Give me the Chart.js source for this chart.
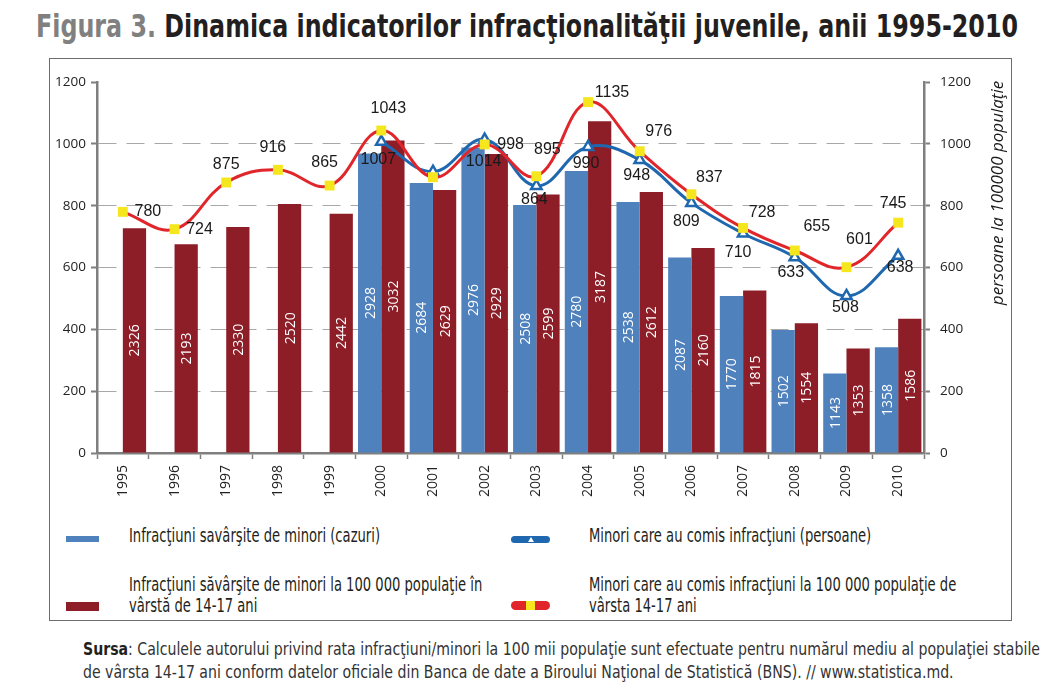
<!DOCTYPE html>
<html>
<head>
<meta charset="utf-8">
<script src="https://cdn.jsdelivr.net/npm/chart.js@4.4.1/dist/chart.umd.min.js"></script>
<style>
  body { margin: 0; background: #fff; width: 1063px; height: 700px; position: relative; overflow: hidden;
         font-family: 'Liberation Sans Narrow', 'DejaVu Sans Condensed', sans-serif; }
  .abs { position: absolute; white-space: nowrap; }
  .fit { display: inline-block; transform-origin: 0 0; }
  #title { left: 36px; top: 10px; font-size: 32px; line-height: 32px; font-weight: bold; color: #231f20; }
  #title .fig { color: #808080; }
  #box { position: absolute; left: 49px; top: 58px; width: 963px; height: 563px; box-sizing: border-box;
         border: 1.5px solid #6d6d6d; }
  #chartWrap { position: absolute; left: 49px; top: 58px; width: 963px; height: 462px; }
  .leg { font-size: 20px; line-height: 21px; color: #231f20; }
  .sw { position: absolute; }
  #src { left: 83px; top: 638px; font-size: 17px; line-height: 23px; color: #333; }
</style>
</head>
<body>
<div id="title" class="abs"><span class="fit" id="titleText"><span class="fig">Figura 3.</span> Dinamica indicatorilor infracţionalităţii juvenile, anii 1995-2010</span></div>
<div id="box"></div>
<div id="chartWrap"><canvas id="chart" width="963" height="462"></canvas></div>

<!-- legend -->
<div class="sw" style="left:66px;top:536px;width:33px;height:5.5px;background:#4f81bd"></div>
<div class="sw" style="left:66px;top:601.5px;width:33px;height:9px;background:#8d1d27"></div>
<div class="sw" style="left:511px;top:535.5px;width:39px;height:7px;background:#1f68b0;border-radius:4px">
  <div style="position:absolute;left:16.5px;top:1px;width:0;height:0;border-left:3px solid transparent;border-right:3px solid transparent;border-bottom:5px solid #fff"></div>
</div>
<div class="sw" style="left:511px;top:601px;width:39px;height:9px;background:#e0262b;border-radius:4.5px">
  <div style="position:absolute;left:15px;top:0;width:9px;height:9px;background:#f5e61e"></div>
</div>
<div class="abs leg" style="left:129px;top:525px"><span class="fit lg" id="legRef">Infracţiuni savârşite de minori (cazuri)</span></div>
<div class="abs leg" style="left:589px;top:525px"><span class="fit lg">Minori care au comis infracţiuni (persoane)</span></div>
<div class="abs leg" style="left:129px;top:573.5px"><span class="fit lg">Infracţiuni săvârşite de minori la 100 000 populaţie în<br>vârstă de 14-17 ani</span></div>
<div class="abs leg" style="left:589px;top:573.5px"><span class="fit lg">Minori care au comis infracţiuni la 100 000 populaţie de<br>vârsta 14-17 ani</span></div>

<div id="src" class="abs"><span class="fit sr" id="srcRef"><b style="color:#231f20">Sursa</b>: Calculele autorului privind rata infracţiuni/minori la 100 mii populaţie sunt efectuate pentru numărul mediu al populaţiei stabile</span><br><span class="fit sr">de vârsta 14-17 ani conform datelor oficiale din Banca de date a Biroului Naţional de Statistică (BNS). // www.statistica.md.</span></div>

<script>
// Categories
const years = ['1995', '1996', '1997', '1998', '1999', '2000', '2001', '2002',
               '2003', '2004', '2005', '2006', '2007', '2008', '2009', '2010'];

// Bar heights as drawn on the axis
const casesBar = [null, null, null, null, null, 969, 873, 988, 802, 912, 812, 632, 508, 398, 257, 342];
const rateBar = [727, 675, 731, 805, 774, 1011, 851, 967, 836, 1073, 844, 663, 526, 420, 338, 434];

// Numbers printed inside the bars
const casesLabel = [null, null, null, null, null, 2928, 2684, 2976, 2508, 2780, 2538, 2087, 1770, 1502, 1143, 1358];
const rateLabel = [2326, 2193, 2330, 2520, 2442, 3032, 2629, 2929, 2599, 3187, 2612, 2160, 1815, 1554, 1353, 1586];

// Lines
const minorsLine = [null, null, null, null, null, 1007, 910, 1014, 864, 990, 948, 809, 710, 633, 508, 638];
const minorsRateLine = [780, 724, 875, 916, 865, 1043, 892, 998, 895, 1135, 976, 837, 728, 655, 601, 745];

const yTicks = [0, 200, 400, 600, 800, 1000, 1200];
const axisTitle = 'persoane la 100000 populaţie';

// where each line label sits relative to its point (null = not shown)
const rateLabelPos = [[25, 0], [25, 0], [0, -18], [-5, -22], [-5, -23], [7, -22], null, [26, 0],
                      [11, -27], [24, -10], [19, -20], [18, -17], [19, -15], [22, -24], [13, -28], [-5, -19]];
const minorsLabelPos = [null, null, null, null, null, [-3, 18], null, [-1, 22],
                        [-2, 14], [-2, 17], [-3, 16], [-5, 19], [-5, 19], [-4, 15], [-1, 12], [2, 12]];

const AXIS = '#7f7f7f';

// fit text blocks to the widths seen in the picture
function fitGroup(cls, ref, target) {
    const k = target / document.getElementById(ref).getBoundingClientRect().width;
    document.querySelectorAll('.' + cls).forEach((el) => { el.style.transform = `scaleX(${k})`; });
}
document.getElementById('titleText').classList.add('tt');
fitGroup('tt', 'titleText', 982);
fitGroup('lg', 'legRef', 251);
fitGroup('sr', 'srcRef', 957);

const valueLabels = {
    id: 'valueLabels',
    afterDatasetsDraw(chart) {
        const ctx = chart.ctx;
        ctx.save();
        // white numbers inside bars
        ctx.fillStyle = '#fff';
        ctx.font = '14px "Open Sans"';
        ctx.textAlign = 'center';
        ctx.textBaseline = 'middle';
        [[2, casesLabel], [3, rateLabel]].forEach(([di, texts]) => {
            chart.getDatasetMeta(di).data.forEach((bar, i) => {
                if (texts[i] == null) return;
                ctx.save();
                ctx.translate(bar.x, (bar.y + bar.base) / 2);
                ctx.rotate(-Math.PI / 2);
                ctx.fillText(String(texts[i]), 0, 1);
                ctx.restore();
            });
        });
        // black numbers next to line points
        ctx.fillStyle = '#1a1a1a';
        ctx.font = '16px "Liberation Sans Narrow", sans-serif';
        [[0, minorsRateLine, rateLabelPos], [1, minorsLine, minorsLabelPos]].forEach(([di, vals, pos]) => {
            chart.getDatasetMeta(di).data.forEach((pt, i) => {
                if (!pos[i] || vals[i] == null) return;
                ctx.fillText(String(vals[i]), pt.x + pos[i][0], pt.y + pos[i][1]);
            });
        });
        ctx.restore();
    },
    afterDraw(chart) {
        const ctx = chart.ctx;
        ctx.save();
        ctx.translate(948.7, 135);
        ctx.rotate(-Math.PI / 2);
        ctx.fillStyle = '#1a1a1a';
        ctx.font = 'italic 17px "Open Sans"';
        ctx.textAlign = 'center';
        ctx.textBaseline = 'middle';
        ctx.fillText(axisTitle, 0, 0, 230);
        ctx.restore();
    }
};

const tickFont = { family: 'Open Sans', size: 13.5 };
const plainTick = (v) => String(v);

new Chart(document.getElementById('chart').getContext('2d'), {
    type: 'bar',
    data: {
        labels: years,
        datasets: [
            {
                type: 'line', label: 'Minori care au comis infracţiuni la 100 000 populaţie de vârsta 14-17 ani',
                data: minorsRateLine, order: 0,
                borderColor: '#e0262b', borderWidth: 3, tension: 0.4,
                pointStyle: 'rect', pointRadius: 7, pointBackgroundColor: '#f5e61e', pointBorderWidth: 0
            },
            {
                type: 'line', label: 'Minori care au comis infracţiuni (persoane)',
                data: minorsLine, order: 0,
                borderColor: '#1f68b0', borderWidth: 3, tension: 0.4,
                pointStyle: 'triangle', pointRadius: 6, pointBackgroundColor: '#fff',
                pointBorderColor: '#1f68b0', pointBorderWidth: 2.5
            },
            {
                label: 'Infracţiuni savârşite de minori (cazuri)', data: casesBar, order: 1,
                backgroundColor: '#4f81bd', categoryPercentage: 0.9, barPercentage: 1.0
            },
            {
                label: 'Infracţiuni săvârşite de minori la 100 000 populaţie în vârstă de 14-17 ani',
                data: rateBar, order: 1,
                backgroundColor: '#8d1d27', categoryPercentage: 0.9, barPercentage: 1.0
            }
        ]
    },
    options: {
        responsive: false,
        animation: false,
        layout: { padding: { top: 24, left: 0, right: 0, bottom: 0 } },
        plugins: { legend: { display: false }, tooltip: { enabled: false } },
        scales: {
            x: {
                offset: true,
                grid: { offset: true, drawOnChartArea: false, tickLength: 6, tickColor: AXIS, tickWidth: 1.5 },
                border: { color: AXIS, width: 2.5 },
                ticks: { minRotation: 90, maxRotation: 90, autoSkip: false, padding: 6, color: '#222',
                         font: { family: 'Open Sans', size: 14 } },
                afterFit: (s) => { s.height = 67; }
            },
            y: {
                position: 'left', min: 0, max: 1200,
                afterBuildTicks: (s) => { s.ticks = yTicks.map((v) => ({ value: v })); },
                ticks: { padding: 5, color: '#222', font: tickFont, callback: plainTick },
                grid: {
                    color: (c) => (c.tick && (c.tick.value === 0 || c.tick.value === 1200)) ? 'rgba(0,0,0,0)' : '#a8a8a8',
                    lineWidth: 1, tickColor: AXIS, tickLength: 6, tickWidth: 2
                },
                border: { color: AXIS, width: 2.5, dash: [18, 10] },
                afterFit: (s) => { s.width = 48; }
            },
            y2: {
                position: 'right', min: 0, max: 1200,
                afterBuildTicks: (s) => { s.ticks = yTicks.map((v) => ({ value: v })); },
                ticks: { padding: 10, color: '#222', font: tickFont, callback: plainTick },
                grid: { drawOnChartArea: false, tickColor: AXIS, tickLength: 6, tickWidth: 2 },
                border: { color: AXIS, width: 2.5 },
                afterFit: (s) => { s.width = 88; }
            }
        }
    },
    plugins: [valueLabels]
});
</script>
</body>
</html>
